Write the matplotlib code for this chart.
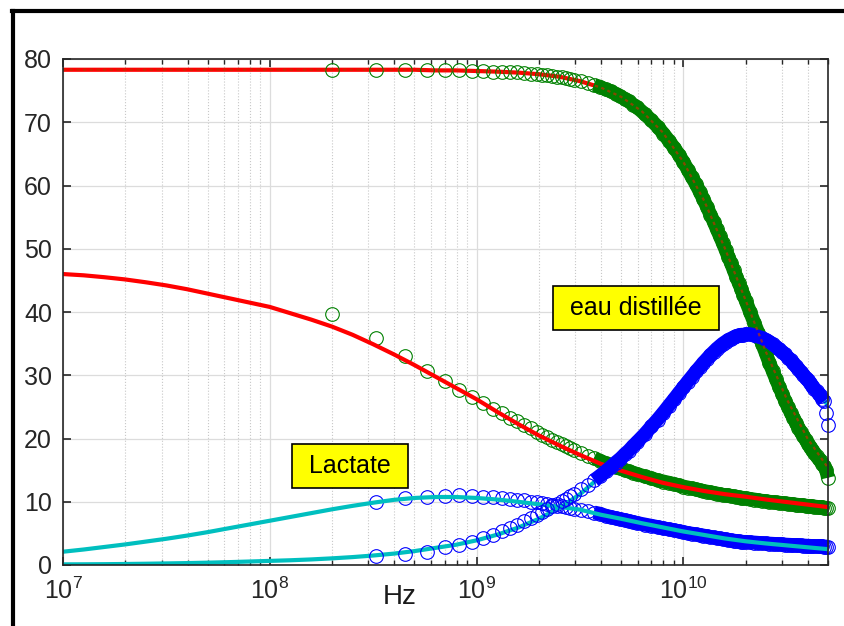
import numpy as np
import matplotlib.pyplot as plt
from matplotlib.lines import Line2D
from matplotlib.ticker import LogLocator, NullFormatter

plt.rcParams['font.family'] = ['Liberation Sans', 'DejaVu Sans']
plt.rcParams['mathtext.fontset'] = 'custom'
plt.rcParams['mathtext.rm'] = 'Liberation Sans'
plt.rcParams['mathtext.it'] = 'Liberation Sans'

# mesures (GHz)
f_mes = [0.2, 0.325, 0.45, 0.575, 0.7, 0.825, 0.95, 1.075, 1.2, 1.325, 1.45, 1.575,
         1.7, 1.825, 1.95, 2.075, 2.2, 2.325, 2.45, 2.575, 2.7, 2.825, 2.95,
         3.2, 3.45, 3.7, 3.95, 4.2, 4.45, 4.7, 4.95, 5.2, 5.45, 5.7, 5.95,
         6.5, 7, 7.5, 8, 8.5, 9, 9.5, 10, 10.5, 11, 11.5, 12, 12.5, 13, 13.5, 14,
         14.5, 15, 15.5, 16, 16.5, 17, 17.5, 18, 18.5, 19, 19.5, 20,
         21, 22, 23, 24, 25, 26, 27, 28, 29, 30, 31, 32, 33, 34, 35, 36, 37, 38,
         39, 40, 41, 42, 43, 44, 45, 46, 47, 48, 49, 50]

eau_re = [78.3, 78.3, 78.3, 78.2, 78.2, 78.2, 78.1, 78.1, 78.0, 78.0, 77.9, 77.9,
          77.8, 77.7, 77.6, 77.5, 77.4, 77.3, 77.2, 77.1, 77.0, 76.9, 76.7,
          76.5, 76.2, 75.9, 75.6, 75.2, 74.9, 74.5, 74.1, 73.7, 73.3, 72.8, 72.4,
          71.3, 70.3, 69.3, 68.2, 67.1, 66.0, 64.9, 63.7, 62.5, 61.3, 60.2, 59.0,
          57.8, 56.6, 55.4, 54.3, 53.1, 52.0, 50.9, 49.8, 48.7, 47.7, 46.6, 45.6,
          44.6, 43.7, 42.7, 41.8,
          40.0, 38.3, 36.7, 35.0, 33.5, 32.0, 30.7, 29.4, 28.2, 27.1, 26.0, 25.0,
          24.1, 23.3, 22.5, 21.7, 21.0, 20.4, 19.8, 19.2, 18.7, 18.2, 17.7, 17.2,
          16.8, 16.4, 16.0, 15.6, 15.0, 13.8]

eau_im = [np.nan, 1.5, 1.7, 2.1, 2.8, 3.2, 3.7, 4.2, 4.8, 5.4, 5.9, 6.4,
          6.9, 7.4, 7.9, 8.4, 8.8, 9.3, 9.7, 10.1, 10.5, 10.9, 11.3,
          12.0, 12.7, 13.4, 14.1, 14.8, 15.5, 16.2, 16.8, 17.5, 18.1, 18.8, 19.4,
          20.7, 21.9, 23.0, 24.1, 25.2, 26.2, 27.2, 28.1, 29.0, 29.8, 30.6, 31.3,
          32.0, 32.6, 33.2, 33.7, 34.2, 34.6, 35.0, 35.3, 35.6, 35.8, 36.0, 36.2,
          36.3, 36.4, 36.4, 36.5,
          36.5, 36.3, 36.1, 35.9, 35.6, 35.3, 34.9, 34.5, 34.1, 33.7, 33.3, 32.8,
          32.4, 31.9, 31.4, 31.0, 30.5, 30.1, 29.6, 29.2, 28.8, 28.3, 27.9, 27.5,
          27.1, 26.7, 26.3, 25.9, 24.0, 22.1]

lac_re = [39.7, 35.9, 33.0, 30.7, 29.1, 27.7, 26.5, 25.6, 24.7, 24.0, 23.3, 22.7,
          22.1, 21.6, 21.1, 20.6, 20.2, 19.8, 19.4, 19.1, 18.8, 18.5, 18.2,
          17.7, 17.3, 16.9, 16.5, 16.1, 15.8, 15.5, 15.3, 15.0, 14.8, 14.6, 14.4,
          14.0, 13.7, 13.4, 13.2, 13.0, 12.8, 12.6, 12.4, 12.25, 12.1, 11.95, 11.8,
          11.7, 11.6, 11.5, 11.4, 11.3, 11.2, 11.1, 11.05, 11.0, 10.9, 10.85, 10.8,
          10.7, 10.65, 10.6, 10.55,
          10.45, 10.35, 10.25, 10.15, 10.1, 10.0, 9.95, 9.9, 9.85, 9.8, 9.75, 9.7,
          9.65, 9.6, 9.55, 9.5, 9.45, 9.42, 9.38, 9.35, 9.3, 9.27, 9.24, 9.2,
          9.17, 9.14, 9.1, 9.07, 9.04, 9.0]

lac_im = [np.nan, 10.0, 10.6, 10.8, 10.9, 11.0, 10.9, 10.8, 10.7, 10.6, 10.4, 10.3,
          10.2, 10.0, 9.9, 9.8, 9.6, 9.5, 9.4, 9.3, 9.2, 9.0, 8.9,
          8.7, 8.5, 8.3, 8.1, 7.8, 7.6, 7.4, 7.25, 7.1, 6.95, 6.8, 6.65,
          6.4, 6.2, 6.0, 5.8, 5.65, 5.5, 5.35, 5.2, 5.05, 4.95, 4.85, 4.75,
          4.65, 4.55, 4.45, 4.35, 4.25, 4.2, 4.1, 4.05, 3.95, 3.9, 3.85, 3.8,
          3.75, 3.7, 3.65, 3.65,
          3.6, 3.55, 3.5, 3.45, 3.42, 3.38, 3.35, 3.32, 3.29, 3.26, 3.23, 3.2,
          3.18, 3.16, 3.14, 3.12, 3.1, 3.08, 3.06, 3.04, 3.02, 3.0, 2.99, 2.97,
          2.96, 2.94, 2.93, 2.92, 2.91, 2.9]

# modeles : une valeur tous les 0.1 decade de 1e7 a 5e10 Hz
f_fit = 10 ** (7 + np.arange(38) / 10)
eau_re_fit = [78.3, 78.3, 78.3, 78.3, 78.3, 78.3, 78.3, 78.3, 78.3, 78.3,
              78.3, 78.3, 78.3, 78.3, 78.3, 78.3, 78.3, 78.3, 78.2, 78.2,
              78.1, 78.0, 77.85, 77.6, 77.2, 76.5, 75.5, 74.0, 71.7, 68.4,
              63.7, 57.6, 50.1, 41.9, 33.6, 26.2, 20.0, 15.3]
eau_im_fit = [0.1, 0.11, 0.13, 0.16, 0.2, 0.25, 0.3, 0.37, 0.45, 0.55,
              0.65, 0.75, 0.88, 1.05, 1.25, 1.5, 1.8, 2.2, 2.7, 3.2,
              3.9, 4.8, 5.9, 7.3, 9.0, 11.2, 14.0, 17.2, 21.0, 25.0,
              29.2, 32.9, 35.5, 36.5, 35.5, 32.9, 29.3, 25.2]
lac_re_fit = [46.0, 45.8, 45.5, 45.15, 44.7, 44.2, 43.6, 42.9, 42.2, 41.5,
              40.8, 39.8, 38.8, 37.7, 36.4, 34.9, 33.3, 31.6, 29.8, 28.0,
              26.2, 24.2, 22.3, 20.5, 18.9, 17.4, 16.0, 14.9, 13.9, 13.0,
              12.3, 11.7, 11.2, 10.8, 10.35, 9.95, 9.55, 9.15]
lac_im_fit = [2.1, 2.45, 2.85, 3.25, 3.7, 4.15, 4.65, 5.2, 5.8, 6.4,
              7.0, 7.6, 8.2, 8.8, 9.35, 9.85, 10.3, 10.6, 10.75, 10.75,
              10.6, 10.35, 10.0, 9.6, 9.2, 8.75, 7.95, 7.3, 6.6, 5.95,
              5.3, 4.75, 4.2, 3.75, 3.4, 3.1, 2.8, 2.5]

f_hz = np.array(f_mes) * 1e9
dense = f_hz >= 3.7e9          # balayage tres serre : les cercles se recouvrent
dense_eau_im = dense & (f_hz <= 48e9)

fig = plt.figure(figsize=(8.44, 6.26), dpi=100)
ax = fig.add_axes([63/844, 61/626, 765/844, 506/626])

green, blue, red, cyan = '#008000', '#0000ff', '#ff0000', '#00bfbf'
mk = dict(ls='none', marker='o', mfc='none', ms=9.8, mew=0.8, clip_on=False)
band = dict(lw=10, solid_capstyle='butt', solid_joinstyle='round', clip_on=False)

# lactate
ax.plot(f_hz, lac_re, color=green, zorder=3, **mk)
ax.plot(f_hz, lac_im, color=blue, zorder=3, **mk)
ax.plot(f_hz[dense], np.array(lac_re)[dense], color=green, zorder=3, **band)
ax.plot(f_hz[dense], np.array(lac_im)[dense], color=blue, zorder=3, **band)
ax.plot(f_fit, lac_re_fit, color=red, lw=3, zorder=4)
ax.plot(f_fit, lac_im_fit, color=cyan, lw=3, zorder=4)

# eau distillee
ax.plot(f_fit, eau_re_fit, color=red, lw=3, zorder=5)
ax.plot(f_fit, eau_im_fit, color=cyan, lw=3, zorder=5)
ax.plot(f_hz, eau_re, color=green, zorder=6, **mk)
ax.plot(f_hz, eau_im, color=blue, zorder=6, **mk)
ax.plot(f_hz[dense], np.array(eau_re)[dense], color=green, zorder=6, **band)
ax.plot(f_hz[dense_eau_im], np.array(eau_im)[dense_eau_im], color=blue, zorder=6, **band)
ax.plot(f_fit, eau_re_fit, color='#c03000', lw=1.6, ls=(0, (1.5, 1.5)), alpha=0.7, zorder=7)

ax.set_xscale('log')
ax.set_xlim(1e7, 5e10)
ax.set_ylim(0, 80)
ax.set_yticks(range(0, 81, 10))
ax.xaxis.set_major_locator(LogLocator(base=10, numticks=10))
ax.xaxis.set_minor_locator(LogLocator(base=10, subs=np.arange(2, 10), numticks=20))
ax.xaxis.set_minor_formatter(NullFormatter())

ax.grid(True, which='major', color='#dcdcdc', lw=0.9, zorder=0)
ax.grid(True, which='minor', axis='x', color='#c8c8c8', lw=0.8, ls=':', zorder=0)
ax.set_axisbelow(True)

for s in ax.spines.values():
    s.set_color('#262626')
    s.set_linewidth(1.2)
    s.set_zorder(8)
ax.tick_params(which='both', direction='in', top=True, right=True, color='#262626',
               labelsize=18, labelcolor='#262626')
ax.tick_params(which='major', length=6, width=1.2)
ax.tick_params(which='minor', length=3.5, width=1.0)
ax.tick_params(axis='y', pad=8)
ax.tick_params(axis='x', pad=9)

ax.set_xlabel('Hz', fontsize=20, color='#1a1a1a')
ax.xaxis.set_label_coords(0.44, -0.063)
ax.xaxis.label.set_va('center')

box = dict(boxstyle='square,pad=0.4', fc='#ffff00', ec='black', lw=1.2)
ax.text(2.45e8, 15.6, ' Lactate ', fontsize=18, ha='center', va='center', bbox=box, zorder=9)
ax.text(5.9e9, 40.7, ' eau distillée ', fontsize=18, ha='center', va='center', bbox=box, zorder=9)

# cadre noir
fig.add_artist(Line2D([12/844, 1], [1 - 11/626, 1 - 11/626], color='black', lw=3))
fig.add_artist(Line2D([13/844, 13/844], [1 - 11/626, 0], color='black', lw=3))

fig.savefig('out.png', dpi=100)
